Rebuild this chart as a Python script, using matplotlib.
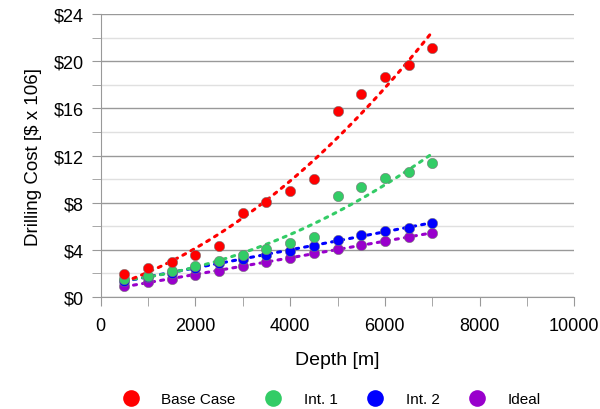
import numpy as np
import matplotlib.pyplot as plt
from matplotlib.lines import Line2D
from matplotlib.ticker import MultipleLocator, FuncFormatter

plt.rcParams['font.family'] = ['Liberation Sans', 'DejaVu Sans']

depth = [500, 1000, 1500, 2000, 2500, 3000, 3500, 4000, 4500, 5000, 5500, 6000, 6500, 7000]
base_case = [1.95, 2.45, 2.97, 3.56, 4.3, 7.1, 8.05, 9.0, 10.0, 15.8, 17.2, 18.65, 19.65, 21.1]
int1 = [1.5, 1.8, 2.2, 2.65, 3.1, 3.6, 4.1, 4.6, 5.1, 8.6, 9.35, 10.1, 10.65, 11.35]
int2 = [1.4, 1.7, 2.05, 2.45, 2.9, 3.25, 3.6, 3.95, 4.35, 4.83, 5.25, 5.6, 5.85, 6.28]
ideal = [0.9, 1.25, 1.55, 1.9, 2.25, 2.65, 2.95, 3.3, 3.72, 4.07, 4.41, 4.75, 5.08, 5.43]

names = ['Base Case', 'Int. 1', 'Int. 2', 'Ideal']
colors = ['#ff0000', '#33cc66', '#0000ff', '#9900cc']
series = [base_case, int1, int2, ideal]

fig = plt.figure(figsize=(6, 4.1), dpi=100)
ax = fig.add_axes([0.168, 0.273, 0.789, 0.69])

x = np.array(depth)
xs = np.linspace(500, 7000, 100)
# draw the purple first so red sits on top, like the reference
for vals, c in zip(series[::-1], colors[::-1]):
    coef = np.polyfit(x, vals, 2)
    ax.plot(xs, np.polyval(coef, xs), color=c, lw=2.2, ls=(0, (1, 2)),
            dash_capstyle='round', zorder=3)
    ax.scatter(x, vals, s=55, color=c, edgecolor='#777777', linewidth=0.4, zorder=4)

ax.set_xlim(0, 10000)
ax.set_ylim(0, 24)
ax.xaxis.set_major_locator(MultipleLocator(2000))
ax.xaxis.set_minor_locator(MultipleLocator(1000))
ax.yaxis.set_major_locator(MultipleLocator(4))
ax.yaxis.set_minor_locator(MultipleLocator(2))
ax.yaxis.set_major_formatter(FuncFormatter(lambda v, p: '\\$%d' % v))

ax.grid(axis='y', which='major', color='#999999', lw=1)
ax.grid(axis='y', which='minor', color='#e0e0e0', lw=1)
ax.set_axisbelow(True)

for s in ['top', 'right']:
    ax.spines[s].set_visible(False)
for s in ['left', 'bottom']:
    ax.spines[s].set_color('#999999')
ax.tick_params(which='both', length=6.5, color='#999999', labelsize=13)
ax.tick_params(axis='x', pad=8)
ax.tick_params(axis='y', pad=6)

ax.set_xlabel('Depth [m]', fontsize=14, labelpad=12)
ax.set_ylabel('Drilling Cost [\\$ x 106]', fontsize=13.5, labelpad=8)

handles = [Line2D([], [], marker='o', ls='', ms=12, color=c, markeredgecolor='none')
           for c in colors]
fig.legend(handles, names, loc='lower center', bbox_to_anchor=(0.553, -0.026), ncol=4,
           frameon=False, fontsize=11, handlelength=1, handletextpad=1.5,
           columnspacing=1.95)

fig.savefig('out.png', dpi=100)
